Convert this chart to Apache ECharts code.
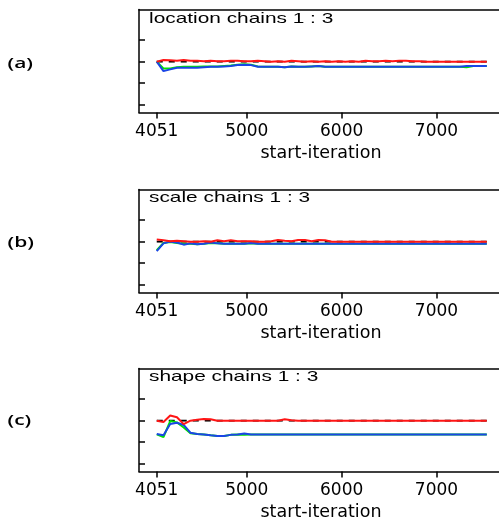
<!DOCTYPE html>
<html>
<head>
<meta charset="utf-8">
<script src="https://cdn.jsdelivr.net/npm/echarts@6/dist/echarts.min.js"></script>
<style>
  html, body { margin: 0; padding: 0; background: #fff; }
  #chart { width: 499px; height: 524px; }
</style>
</head>
<body>
<div id="chart"></div>
<script>
// Brooks-Gelman-Rubin convergence traces, three parameters, chains 1:3
const iterations = [4051, 4122, 4193, 4264, 4335, 4406, 4477, 4548, 4619, 4690,
  4761, 4832, 4903, 4974, 5045, 5116, 5187, 5258, 5329, 5400,
  5471, 5542, 5613, 5684, 5755, 5826, 5897, 5968, 6039, 6110,
  6181, 6252, 6323, 6394, 6465, 6536, 6607, 6678, 6749, 6820,
  6891, 6962, 7033, 7104, 7175, 7246, 7317, 7388, 7459, 7530];

const xTickValues = [4051, 5000, 6000, 7000];
const yTickValues = [0, 0.5, 1, 1.5];
const panelLetters = ['(a)', '(b)', '(c)'];
const panelTitles = ['location chains 1 : 3', 'scale chains 1 : 3', 'shape chains 1 : 3'];

// location
const locationRed = [1.00, 1.04, 1.03, 1.02, 1.04, 1.02, 1.02, 1.01, 1.02, 1.01,
  1.01, 1.02, 1.02, 1.01, 1.01, 1.02, 1.01, 1.00, 1.01, 1.00,
  1.02, 1.01, 1.00, 1.01, 1.00, 1.01, 1.00, 1.01, 1.00, 1.01,
  1.00, 1.02, 1.01, 1.01, 1.02, 1.01, 1.02, 1.02, 1.01, 1.01,
  1.00, 1.00, 1.00, 1.00, 1.00, 1.00, 1.00, 1.00, 1.00, 1.00];
const locationGreen = [1.00, 0.84, 0.84, 0.87, 0.88, 0.88, 0.88, 0.89, 0.89, 0.89,
  0.90, 0.91, 0.93, 0.94, 0.93, 0.89, 0.88, 0.88, 0.88, 0.87,
  0.89, 0.88, 0.88, 0.89, 0.90, 0.88, 0.88, 0.88, 0.88, 0.88,
  0.88, 0.88, 0.88, 0.88, 0.88, 0.88, 0.88, 0.88, 0.88, 0.88,
  0.88, 0.88, 0.88, 0.88, 0.88, 0.88, 0.87, 0.90, 0.90, 0.90];
const locationBlue = [1.00, 0.78, 0.82, 0.86, 0.86, 0.86, 0.86, 0.87, 0.88, 0.88,
  0.89, 0.90, 0.92, 0.93, 0.92, 0.88, 0.88, 0.88, 0.88, 0.87,
  0.89, 0.88, 0.88, 0.89, 0.90, 0.88, 0.88, 0.88, 0.88, 0.88,
  0.88, 0.88, 0.88, 0.88, 0.88, 0.88, 0.88, 0.88, 0.88, 0.88,
  0.88, 0.88, 0.88, 0.88, 0.88, 0.88, 0.90, 0.90, 0.90, 0.90];

// scale
const scaleRed = [1.05, 1.03, 1.01, 1.02, 1.01, 1.00, 1.00, 1.01, 1.00, 1.03,
  1.01, 1.03, 1.01, 1.01, 1.01, 1.00, 1.00, 1.01, 1.04, 1.02,
  1.01, 1.04, 1.04, 1.01, 1.04, 1.03, 1.00, 1.00, 1.00, 1.00,
  1.00, 1.00, 1.00, 1.00, 1.00, 1.00, 1.00, 1.00, 1.00, 1.00,
  1.00, 1.00, 1.00, 1.00, 1.00, 1.00, 1.00, 1.00, 1.00, 1.00];
const scaleGreen = [0.80, 0.97, 0.99, 0.97, 0.95, 0.95, 0.94, 0.95, 0.97, 0.96,
  0.95, 0.95, 0.95, 0.95, 0.96, 0.95, 0.95, 0.95, 0.95, 0.95,
  0.95, 0.95, 0.95, 0.95, 0.95, 0.95, 0.95, 0.95, 0.95, 0.95,
  0.95, 0.95, 0.95, 0.95, 0.95, 0.95, 0.95, 0.95, 0.95, 0.95,
  0.95, 0.95, 0.95, 0.95, 0.95, 0.95, 0.95, 0.95, 0.95, 0.95];
const scaleBlue = [0.78, 0.96, 1.00, 0.98, 0.93, 0.96, 0.94, 0.95, 0.98, 0.96,
  0.95, 0.95, 0.95, 0.95, 0.97, 0.95, 0.95, 0.95, 0.95, 0.95,
  0.95, 0.95, 0.95, 0.95, 0.95, 0.95, 0.95, 0.95, 0.95, 0.95,
  0.95, 0.95, 0.95, 0.95, 0.95, 0.95, 0.95, 0.95, 0.95, 0.95,
  0.95, 0.95, 0.95, 0.95, 0.95, 0.95, 0.95, 0.95, 0.95, 0.95];

// shape
const shapeRed = [1.00, 0.97, 1.12, 1.08, 0.92, 1.00, 1.02, 1.04, 1.03, 1.00,
  1.00, 1.00, 1.00, 1.00, 1.00, 1.00, 1.00, 1.00, 1.00, 1.03,
  1.01, 1.00, 1.00, 1.00, 1.00, 1.00, 1.00, 1.00, 1.00, 1.00,
  1.00, 1.00, 1.00, 1.00, 1.00, 1.00, 1.00, 1.00, 1.00, 1.00,
  1.00, 1.00, 1.00, 1.00, 1.00, 1.00, 1.00, 1.00, 1.00, 1.00];
const shapeGreen = [0.68, 0.62, 0.99, 0.96, 0.84, 0.71, 0.69, 0.68, 0.66, 0.645,
  0.645, 0.67, 0.68, 0.67, 0.68, 0.68, 0.68, 0.68, 0.68, 0.68,
  0.68, 0.68, 0.68, 0.68, 0.68, 0.68, 0.68, 0.68, 0.68, 0.68,
  0.68, 0.68, 0.68, 0.68, 0.68, 0.68, 0.68, 0.68, 0.68, 0.68,
  0.68, 0.68, 0.68, 0.68, 0.68, 0.68, 0.68, 0.68, 0.68, 0.68];
const shapeBlue = [0.69, 0.66, 0.92, 0.95, 0.90, 0.72, 0.69, 0.68, 0.66, 0.645,
  0.645, 0.67, 0.68, 0.70, 0.68, 0.68, 0.68, 0.68, 0.68, 0.68,
  0.68, 0.68, 0.68, 0.68, 0.68, 0.68, 0.68, 0.68, 0.68, 0.68,
  0.68, 0.68, 0.68, 0.68, 0.68, 0.68, 0.68, 0.68, 0.68, 0.68,
  0.68, 0.68, 0.68, 0.68, 0.68, 0.68, 0.68, 0.68, 0.68, 0.68];

const panels = [
  { red: locationRed, green: locationGreen, blue: locationBlue },
  { red: scaleRed, green: scaleGreen, blue: scaleBlue },
  { red: shapeRed, green: shapeGreen, blue: shapeBlue }
];

const gridTops = [9.5, 189.5, 368.5];
const gridLeft = 139;
const gridWidth = 364;   // frame runs past the right edge of the canvas
const gridHeight = 103;
const X_MIN = 3864, X_MAX = 7701;
const AXIS_FONT = 'DejaVu Sans';
const frameLine = { color: '#000', width: 1.5 };

const pair = (vals) => iterations.map((it, i) => [it, vals[i]]);

const grids = [], xAxes = [], yAxes = [], series = [], graphics = [];

panels.forEach((p, i) => {
  grids.push({
    left: gridLeft, top: gridTops[i], width: gridWidth, height: gridHeight,
    outerBoundsMode: 'none', containLabel: false, show: false
  });
  // bottom axis with iteration ticks
  xAxes.push({
    type: 'value', gridIndex: i, position: 'bottom', min: X_MIN, max: X_MAX,
    splitLine: { show: false },
    axisLine: { onZero: false, lineStyle: frameLine },
    axisTick: { customValues: xTickValues, length: 6, lineStyle: frameLine },
    axisLabel: {
      customValues: xTickValues, formatter: (v) => String(v),
      color: '#000', fontFamily: AXIS_FONT, fontSize: 17, margin: 11
    },
    name: 'start-iteration', nameLocation: 'middle', nameGap: 32,
    nameTextStyle: { color: '#000', fontFamily: AXIS_FONT, fontSize: 17.5 }
  });
  // top frame line
  xAxes.push({
    type: 'value', gridIndex: i, position: 'top', min: X_MIN, max: X_MAX,
    splitLine: { show: false },
    axisLine: { onZero: false, lineStyle: frameLine },
    axisTick: { show: false }, axisLabel: { show: false }
  });
  yAxes.push({
    type: 'value', gridIndex: i, min: -0.18, max: 2.21,
    splitLine: { show: false },
    axisLine: { onZero: false, lineStyle: frameLine },
    axisTick: { inside: true, customValues: yTickValues, length: 6, lineStyle: frameLine },
    axisLabel: { show: false }
  });

  const base = { type: 'line', xAxisIndex: 2 * i, yAxisIndex: i, symbol: 'none', silent: true, animation: false };
  series.push(Object.assign({}, base, {
    name: 'reference',
    data: [[iterations[0], 1], [iterations[iterations.length - 1], 1]],
    lineStyle: { color: '#000', width: 1.8, type: [6, 6] }
  }));
  series.push(Object.assign({}, base, {
    name: 'pooled', data: pair(p.green), lineStyle: { color: '#00e400', width: 2 }
  }));
  series.push(Object.assign({}, base, {
    name: 'within', data: pair(p.blue), lineStyle: { color: '#1a45e6', width: 2 }
  }));
  series.push(Object.assign({}, base, {
    name: 'ratio', data: pair(p.red), lineStyle: { color: '#ff1515', width: 2 }
  }));
});

// panel titles and letters
const titleY = [18.8, 198.1, 377.3];
const letterY = [64, 242.5, 421];
panelTitles.forEach((t, i) => {
  graphics.push({
    type: 'text', x: 149, y: titleY[i], scaleX: 1.39,
    style: { text: t, fill: '#000', font: '15px "Liberation Sans"', textAlign: 'left', textVerticalAlign: 'middle' }
  });
});
panelLetters.forEach((t, i) => {
  graphics.push({
    type: 'text', x: 7.5, y: letterY[i], scaleX: 1.4,
    style: { text: t, fill: '#000', font: '600 15px "Open Sans"', textAlign: 'left', textVerticalAlign: 'middle' }
  });
});

const chart = echarts.init(document.getElementById('chart'), null, { renderer: 'canvas' });
chart.setOption({
  animation: false,
  backgroundColor: '#fff',
  grid: grids,
  xAxis: xAxes,
  yAxis: yAxes,
  series: series,
  graphic: graphics
});
</script>
</body>
</html>
